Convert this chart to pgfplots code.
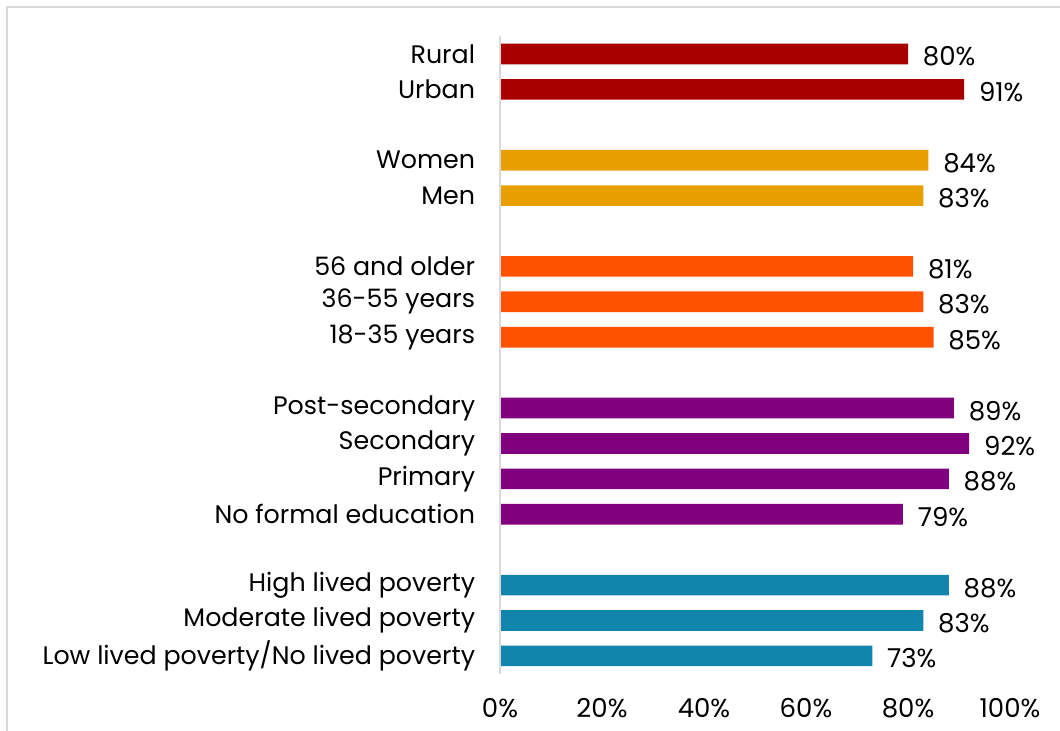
\documentclass[border=0pt]{standalone}
\usepackage{fontspec}
\setmainfont{Poppins}
\usepackage{pgfplots}
\pgfplotsset{compat=1.18}
\definecolor{cRed}{HTML}{A80000}
\definecolor{cGold}{HTML}{E8A000}
\definecolor{cOrange}{HTML}{FF5200}
\definecolor{cPurple}{HTML}{800080}
\definecolor{cTeal}{HTML}{1185AB}
\definecolor{cLine}{HTML}{D9D9D9}
\begin{document}
\begin{tikzpicture}
\useasboundingbox (0pt,0pt) rectangle (795pt,-548.25pt);
\draw[color=cLine, line width=1pt] (5.25pt,-5.25pt) rectangle (830pt,-590pt);
\begin{axis}[
  at={(375pt,-27.2pt)}, anchor=north west,
  scale only axis, width=382.5pt, height=478pt,
  xmin=0, xmax=100, ymin=-0.5, ymax=17.5,
  clip=false,
  axis line style={draw=none},
  tick style={draw=none},
  xtick={0,20,40,60,80,100},
  xticklabel={\pgfmathprintnumber{\tick}\%},
  /pgf/number format/assume math mode=true,
  xticklabel style={anchor=center, inner sep=0pt, yshift=-26pt, font=\fontsize{19.5}{22}\selectfont},
  ytick={0,1,2,4,5,6,7,9,10,11,13,14,16,17},
  yticklabels={Low lived poverty/No lived poverty, Moderate lived poverty, High lived poverty, No formal education, Primary, Secondary, Post-secondary, 18-35 years, 36-55 years, 56 and older, Men, Women, Urban, Rural},
  yticklabel style={anchor=east, inner sep=0pt, xshift=-14.25pt, font=\fontsize{19}{22}\selectfont},
  xbar, bar width=15.5pt, bar shift=0pt,
  nodes near coords={\pgfmathprintnumber\pgfplotspointmeta\%},
  nodes near coords align=horizontal,
  every node near coord/.append style={anchor=west, inner sep=0pt, xshift=11pt, yshift=-2pt, text=black, font=\fontsize{19.5}{22}\selectfont},
]
\addplot[fill=cRed, draw=none, bar shift=0pt] coordinates {(80,17) (91,16)};
\addplot[fill=cGold, draw=none, bar shift=0pt] coordinates {(84,14) (83,13)};
\addplot[fill=cOrange, draw=none, bar shift=0pt] coordinates {(81,11) (83,10) (85,9)};
\addplot[fill=cPurple, draw=none, bar shift=0pt] coordinates {(89,7) (92,6) (88,5) (79,4)};
\addplot[fill=cTeal, draw=none, bar shift=0pt] coordinates {(88,2) (83,1) (73,0)};
\draw[cLine, line width=1pt] (axis cs:0,-0.5) -- (axis cs:0,17.5);
\end{axis}
\end{tikzpicture}
\end{document}
